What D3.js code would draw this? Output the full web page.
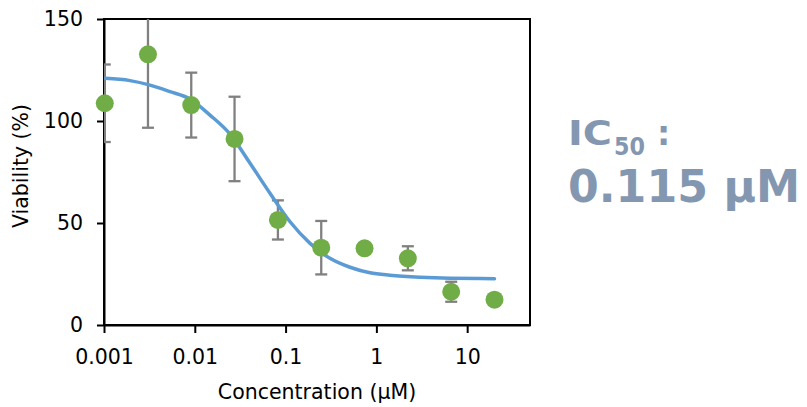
<!DOCTYPE html>
<html>
<head>
<meta charset="utf-8">
<script src="https://cdn.jsdelivr.net/npm/d3@7"></script>
<style>
  html, body { margin: 0; padding: 0; background: #fff; }
  svg { display: block; }
  text { font-family: "DejaVu Sans", Verdana, sans-serif; }
</style>
</head>
<body>
<svg id="chart" width="807" height="407"></svg>
<script>
// ---- data ----
const concentrations = [0.00102, 0.00305, 0.00914, 0.0274, 0.0823, 0.247, 0.741, 2.22, 6.67, 20];
const viability      = [108.7, 132.7, 107.8, 91.2, 51.5, 37.9, 37.6, 32.7, 16.3, 12.4];
const errors         = [19.0, 36.0, 15.9, 20.7, 9.6, 13.1, 1.0, 5.9, 4.9, 1.5];
const fitX = [0.00103, 0.00193, 0.00321, 0.00533, 0.00885, 0.0147, 0.0244, 0.0406, 0.0673, 0.112, 0.186, 0.308, 0.512, 0.851, 1.41, 3.02, 6.47, 20];
const fitY = [120.9, 119.8, 117.6, 114.4, 110.8, 102.9, 93.6, 79.3, 64.6, 50.6, 40.0, 32.7, 28.3, 25.6, 24.4, 23.4, 22.9, 22.7];
const xTicks = [0.001, 0.01, 0.1, 1, 10];
const xTickLabels = ["0.001", "0.01", "0.1", "1", "10"];
const yTicks = [0, 50, 100, 150];
const xTitle = "Concentration (µM)";
const yTitle = "Viability (%)";
const icLabel = "IC";
const icSub = "50";
const icValue = "0.115 µM";

// ---- layout ----
const svg = d3.select("#chart");
const L = 104, R = 530, T = 19, B = 325;
const x = d3.scaleLog().domain([0.001, 49.2]).range([L, R]);
const y = d3.scaleLinear().domain([0, 150]).range([B, T]);
const FS = "20.5px";

svg.append("defs").append("clipPath").attr("id", "clip")
  .append("rect").attr("x", L).attr("y", T).attr("width", R - L).attr("height", B - T);

// plot frame (top/right)
svg.append("rect").attr("x", L).attr("y", T).attr("width", R - L).attr("height", B - T)
  .attr("fill", "none").attr("stroke", "#000").attr("stroke-width", 2);

// axes
const xAxis = d3.axisBottom(x).tickValues(xTicks)
  .tickFormat((d, i) => xTickLabels[i]).tickSize(8).tickPadding(16).tickSizeOuter(0);
const gx = svg.append("g").attr("transform", `translate(0,${B})`).call(xAxis);
const yAxis = d3.axisLeft(y).tickValues(yTicks).tickSize(7).tickPadding(14).tickSizeOuter(0);
const gy = svg.append("g").attr("transform", `translate(${L},0)`).call(yAxis);
[gx, gy].forEach(g => {
  g.selectAll("path.domain").attr("stroke", "#000").attr("stroke-width", 2);
  g.selectAll(".tick line").attr("stroke", "#000").attr("stroke-width", 2);
  g.selectAll(".tick text").attr("fill", "#000").style("font-size", FS)
    .style("font-family", '"DejaVu Sans", Verdana, sans-serif');
});

const plot = svg.append("g").attr("clip-path", "url(#clip)");

// error bars
const eb = plot.append("g").attr("stroke", "#808080").attr("stroke-width", 2.3).attr("fill", "none");
concentrations.forEach((c, i) => {
  const cx = x(c), y1 = y(viability[i] + errors[i]), y0 = y(viability[i] - errors[i]);
  eb.append("line").attr("x1", cx).attr("x2", cx).attr("y1", y1).attr("y2", y0);
  eb.append("line").attr("x1", cx - 6).attr("x2", cx + 6).attr("y1", y1).attr("y2", y1);
  eb.append("line").attr("x1", cx - 6).attr("x2", cx + 6).attr("y1", y0).attr("y2", y0);
});

// fit curve
const line = d3.line().x(d => x(d[0])).y(d => y(d[1])).curve(d3.curveMonotoneX);
plot.append("path").datum(fitX.map((v, i) => [v, fitY[i]]))
  .attr("d", line).attr("fill", "none").attr("stroke", "#5b9bd5")
  .attr("stroke-width", 3.5).attr("stroke-linecap", "round");

// points
svg.append("g").selectAll("circle").data(concentrations).join("circle")
  .attr("cx", d => x(d)).attr("cy", (d, i) => y(viability[i])).attr("r", 9)
  .attr("fill", "#70ad47");

// axis titles
svg.append("text").attr("x", (L + R) / 2).attr("y", 399).attr("text-anchor", "middle")
  .style("font-size", FS).attr("fill", "#000").text(xTitle);
svg.append("text").attr("transform", "translate(28,166) rotate(-90)").attr("text-anchor", "middle")
  .style("font-size", FS).attr("fill", "#000").text(yTitle);

// IC50 annotation
const icColor = "#8497b0";
const ic = svg.append("text").attr("x", 568).attr("y", 145).attr("fill", icColor)
  .style("font-size", "33px").style("font-weight", "bold");
ic.append("tspan").attr("x", 568).attr("y", 145)
  .attr("textLength", 44).attr("lengthAdjust", "spacingAndGlyphs").text(icLabel);
ic.append("tspan").attr("x", 614).attr("y", 155).style("font-size", "25px")
  .attr("textLength", 31).attr("lengthAdjust", "spacingAndGlyphs").text(icSub);
ic.append("tspan").attr("x", 657).attr("y", 145).text(":");
svg.append("text").attr("x", 568).attr("y", 202).attr("fill", icColor)
  .style("font-size", "45px").style("font-weight", "bold")
  .attr("textLength", 232).attr("lengthAdjust", "spacingAndGlyphs").text(icValue);
</script>
</body>
</html>
